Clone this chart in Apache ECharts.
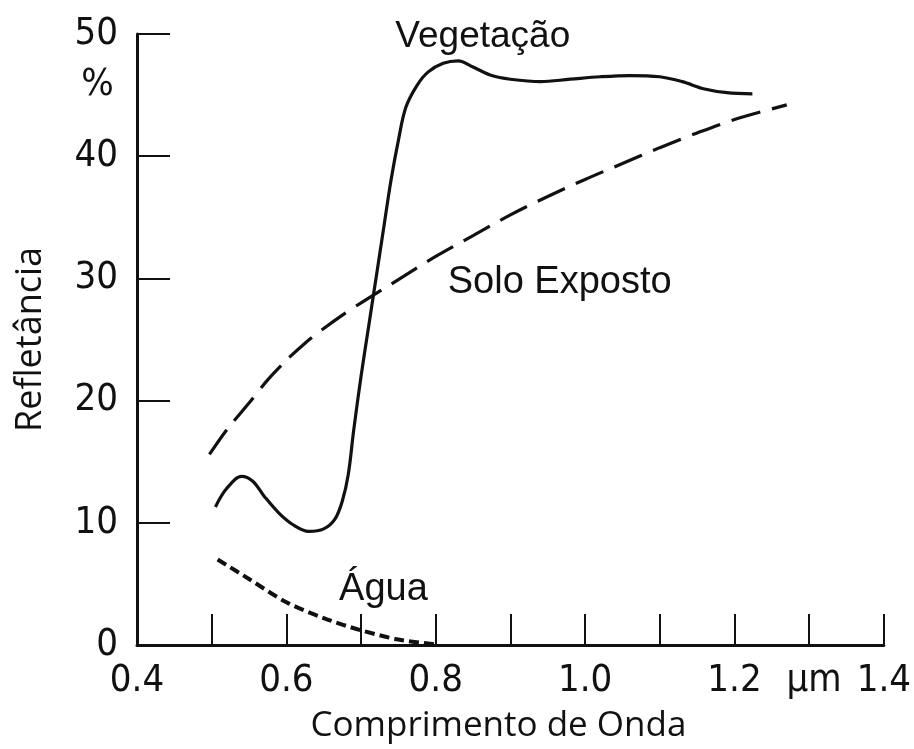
<!DOCTYPE html>
<html>
<head>
<meta charset="utf-8">
<script src="https://cdn.jsdelivr.net/npm/echarts@6/dist/echarts.min.js"></script>
<style>
html,body{margin:0;padding:0;background:#fff;}
#chart{width:914px;height:749px;}
</style>
</head>
<body>
<div id="chart"></div>
<script>
// ---- data ----
const vegWavelength = [0.505,0.52,0.54,0.555,0.57,0.59,0.61,0.63,0.65,0.665,0.675,0.683,0.69,0.70,0.71,0.72,0.73,0.74,0.75,0.76,0.775,0.79,0.81,0.83,0.85,0.875,0.90,0.94,0.98,1.02,1.06,1.10,1.13,1.16,1.19,1.224];
const vegReflectance = [11.3,12.8,13.8,13.4,12.2,10.8,9.8,9.3,9.5,10.3,11.8,14.0,17.5,22.0,26.0,30.0,34.0,38.0,41.3,44.0,45.8,46.9,47.6,47.8,47.3,46.6,46.3,46.1,46.3,46.5,46.6,46.5,46.1,45.5,45.2,45.1];

const soilWavelength = [0.497,0.52,0.55,0.575,0.60,0.625,0.65,0.675,0.70,0.75,0.80,0.85,0.90,0.95,1.00,1.05,1.10,1.15,1.20,1.27];
const soilReflectance = [15.6,17.6,19.8,21.7,23.3,24.7,25.9,27.0,28.0,29.9,31.8,33.5,35.2,36.7,38.1,39.4,40.7,41.9,43.0,44.2];

const waterWavelength = [0.508,0.55,0.60,0.65,0.70,0.75,0.80];
const waterReflectance = [7.0,5.4,3.5,2.2,1.2,0.45,0.05];

const xLabelValues = [0.4,0.6,0.8,1.0,1.2,1.3,1.4];
const xLabelTexts = ['0.4','0.6','0.8','1.0','1.2','µm','1.4'];
const yTickValues = [0,10,20,30,40,50];

const annotTexts = ['Vegetação','Solo Exposto','Água'];
const annotX = [0.863,0.966,0.73];
const annotY = [49.8,29.7,4.5];
const annotSizes = [37,38,38];
const unitText = '%';
const unitX = 0.347;
const unitY = 45.8;

const xTitle = 'Comprimento de Onda';
const yTitle = 'Refletância';

// ---- build ----
const zip = (a,b) => a.map((v,i)=>[v,b[i]]);
const tickFont = "'Liberation Sans Narrow','DejaVu Sans Condensed',sans-serif";
const ink = '#111';

const chart = echarts.init(document.getElementById('chart'), null, {renderer:'canvas'});
chart.setOption({
  backgroundColor:'#fff',
  animation:false,
  grid:{left:137,right:27,top:34,bottom:103,containLabel:false},
  xAxis:{
    type:'value',min:0.4,max:1.4,interval:0.1,
    name:xTitle,nameLocation:'middle',nameGap:64,
    nameTextStyle:{fontFamily:"'Open Sans',sans-serif",fontSize:35,color:ink,padding:[0,24,0,0]},
    axisLine:{show:true,onZero:false,lineStyle:{color:ink,width:3}},
    axisTick:{show:true,inside:true,length:31,lineStyle:{color:ink,width:2}},
    splitLine:{show:false},
    axisLabel:{
      show:true,interval:0,margin:17,color:ink,fontFamily:tickFont,fontSize:38,
      showMinLabel:true,showMaxLabel:true,
      formatter:function(v){
        for(let i=0;i<xLabelValues.length;i++){
          if(Math.abs(v-xLabelValues[i])<1e-6) return xLabelTexts[i]==='µm' ? '{u|µm}' : xLabelTexts[i];
        }
        return '';
      },
      rich:{u:{fontFamily:tickFont,fontSize:38,color:ink,padding:[0,0,0,10]}}
    }
  },
  yAxis:{
    type:'value',min:0,max:50,interval:10,
    name:yTitle,nameLocation:'middle',nameGap:88,nameRotate:90,
    nameTextStyle:{fontFamily:"'Open Sans',sans-serif",fontSize:36,color:ink},
    axisLine:{show:true,onZero:false,lineStyle:{color:ink,width:3}},
    axisTick:{show:true,inside:true,length:33,lineStyle:{color:ink,width:2}},
    splitLine:{show:false},
    axisLabel:{
      show:true,margin:19,color:ink,fontFamily:tickFont,fontSize:38,
      formatter:function(v){ return yTickValues.indexOf(Math.round(v))>=0 ? String(Math.round(v)) : ''; }
    }
  },
  series:[
    {
      name:'Vegetação',type:'line',data:zip(vegWavelength,vegReflectance),
      smooth:0.35,showSymbol:false,symbol:'none',
      lineStyle:{color:ink,width:3.2}
    },
    {
      name:'Solo Exposto',type:'line',data:zip(soilWavelength,soilReflectance),
      smooth:0.3,showSymbol:false,symbol:'none',
      lineStyle:{color:ink,width:3.2,type:[30,12],cap:'butt'}
    },
    {
      name:'Água',type:'line',data:zip(waterWavelength,waterReflectance),
      smooth:0.3,showSymbol:false,symbol:'none',
      lineStyle:{color:ink,width:4,type:[10,5],cap:'butt'}
    },
    {
      name:'annotations',type:'scatter',symbolSize:0,silent:true,clip:false,
      itemStyle:{color:ink,opacity:1},
      data:annotTexts.map((t,i)=>({value:[annotX[i],annotY[i]],name:t,
        label:{fontSize:annotSizes[i]}})),
      label:{show:true,position:'inside',formatter:p=>p.name,opacity:1,
        fontFamily:"'Liberation Sans',Arial,sans-serif",fontSize:37,color:ink}
    },
    {
      name:'unit',type:'scatter',symbolSize:0,silent:true,clip:false,
      itemStyle:{color:ink,opacity:1},
      data:[{value:[unitX,unitY],name:unitText}],
      label:{show:true,position:'inside',formatter:p=>p.name,opacity:1,
        fontFamily:tickFont,fontSize:38,color:ink}
    }
  ]
});
</script>
</body>
</html>
